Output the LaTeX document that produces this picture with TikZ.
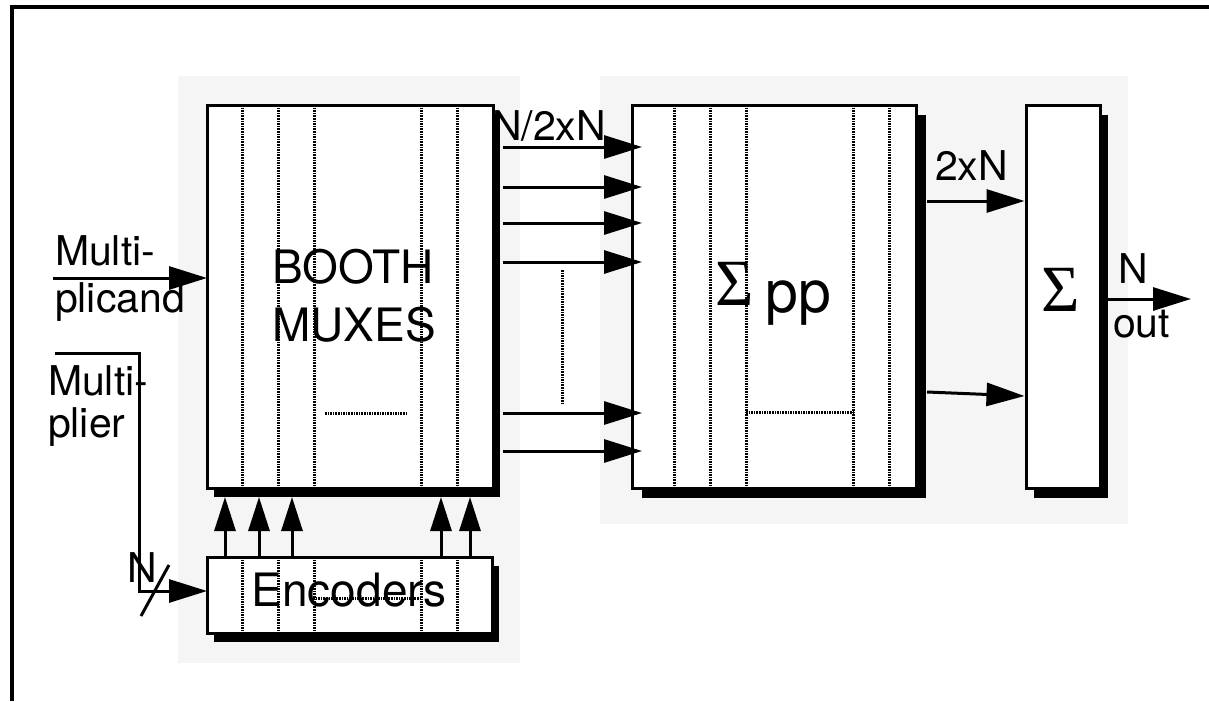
\documentclass[tikz,border=0pt]{standalone}
\usepackage{fontspec}
\setmainfont{TeX Gyre Heros}
\newfontfamily\symfont{Liberation Serif}
\usetikzlibrary{arrows.meta,shadows}
\definecolor{bggray}{HTML}{F5F5F5}
\tikzset{
  box/.style={draw, line width=3pt, fill=white, rectangle, inner sep=0pt, outer sep=0pt},
  lbl/.style={inner sep=0pt, outer sep=0pt, anchor=base west, font=\fontsize{41}{49}\selectfont},
  biglbl/.style={inner sep=0pt, outer sep=0pt, anchor=base, font=\fontsize{46}{55}\selectfont},
  arr/.style={line width=3pt, -{Triangle[length=38pt,width=23pt]}},
  uparr/.style={line width=3pt, -{Triangle[length=34pt,width=21pt]}},
  hatch/.style={line width=3pt, dash pattern=on 1.6pt off 1pt},
  plain/.style={line width=3pt}
}
\begin{document}
\begin{tikzpicture}[x=1pt,y=-1pt]
\useasboundingbox (0,0) rectangle (1209,701);
% background panels
\fill[bggray] (178,76) rectangle (520,663);
\fill[bggray] (600,76) rectangle (1128,524);
% outer frame
\draw[line width=3.5pt] (12,701) -- (12,7) -- (1209,7);
% boxes
\node[box, minimum width=286pt, minimum height=383pt,
  drop shadow={shadow xshift=7pt, shadow yshift=-9pt, fill=black, opacity=1}] (booth) at (350,296.5) {};
\node[box, minimum width=285pt, minimum height=76pt,
  drop shadow={shadow xshift=7pt, shadow yshift=-9pt, fill=black, opacity=1}] (enc) at (349.5,595) {};
\node[box, minimum width=284pt, minimum height=383pt,
  drop shadow={shadow xshift=10pt, shadow yshift=-10pt, fill=black, opacity=1}] (sumpp) at (774,296.5) {};
\node[box, minimum width=74pt, minimum height=383pt,
  drop shadow={shadow xshift=8pt, shadow yshift=-10pt, fill=black, opacity=1}] (sigma) at (1063,296.5) {};
% hatched lines
\foreach \x in {242,278,314,421,457} {
  \draw[hatch] (\x,0 |- booth.north) -- (\x,0 |- booth.south);
  \draw[hatch] (\x,0 |- enc.north) -- (\x,0 |- enc.south);
}
\foreach \x in {674,710,746,853,889} {
  \draw[hatch] (\x,0 |- sumpp.north) -- (\x,0 |- sumpp.south);
}
\draw[hatch] (325,413) -- (408,413);
\draw[hatch] (313,598) -- (420,598);
\draw[hatch] (746,412) -- (853,412);
\draw[hatch] (562,270) -- (562,403);
% labels
\node[biglbl] (tbooth) at (353,283) {BOOTH};
\node[biglbl] (tmux) at (354,341) {MUXES};
\node[biglbl] (tenc) at (349,606) {Encoders};
\node[inner sep=0pt, anchor=base west, font=\symfont\fontsize{66}{72}\selectfont] (tsig1) at (715,305) {Σ};
\node[inner sep=0pt, anchor=base west, font=\fontsize{59}{66}\selectfont] (tpp) at (765,312) {pp};
\node[inner sep=0pt, anchor=base, font=\symfont\fontsize{66}{72}\selectfont] (tsig2) at (1061,311) {Σ};
\node[lbl] (l1) at (492,140) {N/2xN};
\node[lbl] (l2) at (935,180) {2xN};
\node[lbl] (l3) at (1118,283) {N};
\node[lbl] (l4) at (1113,337) {out};
\node[lbl] (l5) at (55,265) {Multi-};
\node[lbl] (l6) at (55,312) {plicand};
\node[lbl] (l7) at (48,395) {Multi-};
\node[lbl] (l8) at (48,437) {plier};
\node[lbl] (l9) at (127,582) {N};
% connectors
\coordinate (mcand) at (53,278);
\draw[arr] (mcand) -- (mcand -| booth.west);
\coordinate (mplier) at (55,353);
\coordinate (mbend) at (139,591);
\draw[arr] (mplier) -| (mbend) -- (mbend -| enc.west);
\coordinate (sl1) at (141,616);
\coordinate (sl2) at (169,565);
\draw[plain] (sl1) -- (sl2);
\foreach \x in {225,259,292,441,470} {
  \draw[uparr] (\x,0 |- enc.north) -- ([yshift=-9pt]\x,0 |- booth.south);
}
\foreach \y in {147,187,223,262,413,451} {
  \draw[arr] ([xshift=10pt]booth.east |- 0,\y) -- ([xshift=10pt]sumpp.west |- 0,\y);
}
\draw[arr] ([xshift=11pt]sumpp.east |- 0,201) -- ([xshift=-1.5pt]sigma.west |- 0,201);
\draw[arr] ([xshift=11pt]sumpp.east |- 0,392) -- ([xshift=-1.5pt]sigma.west |- 0,396);
\coordinate (outp) at (1191,299);
\draw[arr] ([xshift=8pt]sigma.east |- outp) -- (outp);
\end{tikzpicture}
\end{document}
